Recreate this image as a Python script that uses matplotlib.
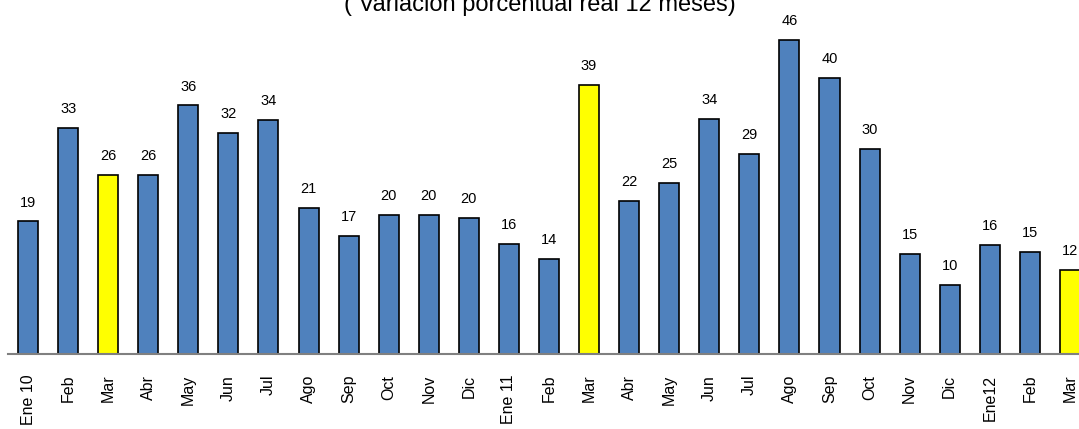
import matplotlib
matplotlib.use("Agg")
import matplotlib.pyplot as plt

# data
meses = ["Ene 10", "Feb", "Mar", "Abr", "May", "Jun", "Jul", "Ago", "Sep", "Oct", "Nov", "Dic",
         "Ene 11", "Feb", "Mar", "Abr", "May", "Jun", "Jul", "Ago", "Sep", "Oct", "Nov", "Dic",
         "Ene12", "Feb", "Mar"]
valores = [19.4, 33.1, 26.2, 26.2, 36.4, 32.4, 34.3, 21.4, 17.3, 20.4, 20.4, 19.9,
           16.1, 13.9, 39.4, 22.4, 25.0, 34.4, 29.3, 46.0, 40.4, 30.0, 14.6, 10.1,
           16.0, 14.9, 12.3]
resaltados = [2, 14, 26]  # marzo en amarillo

plt.rcParams['font.family'] = ['Liberation Sans', 'DejaVu Sans']

fig = plt.figure(figsize=(10.79, 4.29), dpi=100)
W, H = 1079, 429
ax = fig.add_axes([8 / W, 75 / H, 1082 / W, 341.5 / H])

colores = ['#FFFF00' if i in resaltados else '#4F81BD' for i in range(len(valores))]
x = list(range(len(valores)))
bars = ax.bar(x, valores, width=0.5, color=colores, edgecolor='black', linewidth=1.2)

for xi, v in zip(x, valores):
    ax.annotate(f"{v:.0f}", (xi, v), xytext=(0, 8.5), textcoords='offset points',
                ha='center', va='bottom', fontsize=10.5)

ax.set_xlim(-0.5, 26.5)
ax.set_ylim(0, 50)
ax.set_xticks(x)
ax.set_xticklabels(meses, rotation=90, fontsize=11.5, va='top')
ax.tick_params(axis='x', length=0, pad=15)
ax.set_yticks([])
for s in ['top', 'right', 'left']:
    ax.spines[s].set_visible(False)
ax.spines['bottom'].set_color('#808080')
ax.spines['bottom'].set_linewidth(1.5)

fig.text(540 / W, 1 - 11 / H, "( Variación porcentual real 12 meses)", ha='center',
         va='baseline', fontsize=17)

fig.savefig("out.png", dpi=100)
